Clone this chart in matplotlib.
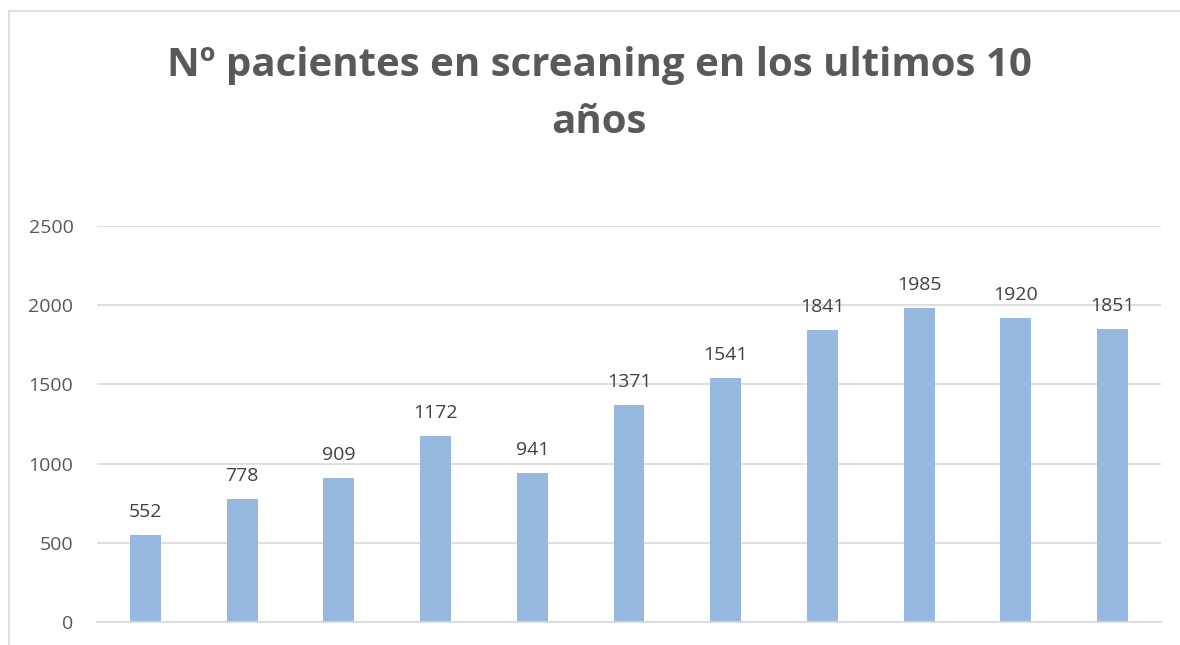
import matplotlib.pyplot as plt
from matplotlib.lines import Line2D

plt.rcParams['font.family'] = ['Open Sans', 'DejaVu Sans']

years = list(range(11))
pacientes = [552, 778, 909, 1172, 941, 1371, 1541, 1841, 1985, 1920, 1851]
yticks = [0, 500, 1000, 1500, 2000, 2500]
title = "Nº pacientes en screaning en los ultimos 10\naños"

W, H = 1180, 645
fig = plt.figure(figsize=(W / 100, H / 100), dpi=100)

# chart border: only top and left edges are visible in the crop
bx, by = 8.5 / W, 1 - 10.5 / H
fig.lines.append(Line2D([bx, 1.0], [by, by], transform=fig.transFigure,
                        color="#D9D9D9", linewidth=1.2))
fig.lines.append(Line2D([bx, bx], [0.0, by], transform=fig.transFigure,
                        color="#D9D9D9", linewidth=1.2))

ax = fig.add_axes([97 / W, (H - 622) / H, (1161 - 97) / W, (622 - 226) / H])
bars = ax.bar(years, pacientes, width=0.32, color="#97B9E0", zorder=2)
ax.set_xlim(-0.5, len(years) - 0.5)
ax.set_ylim(0, 2500)
ax.set_yticks(yticks)
ax.set_yticklabels([str(t) for t in yticks], fontsize=14, color="#595959")
ax.tick_params(axis="y", length=0, pad=17)
ax.set_xticks([])
ax.grid(axis="y", color="#D9D9D9", linewidth=1.2, zorder=0)
for s in ["top", "right", "left"]:
    ax.spines[s].set_visible(False)
ax.spines["bottom"].set_color("#D9D9D9")
ax.spines["bottom"].set_linewidth(1.2)

for x, v in zip(years, pacientes):
    ax.annotate(str(v), (x, v), xytext=(0, 10), textcoords="offset points",
                ha="center", va="bottom", fontsize=14, color="#404040")

fig.text(599 / W, 1 - 94 / H, title, ha="center", va="center",
         fontsize=29, fontweight="bold", color="#595959", linespacing=1.6)

fig.savefig("out.png", dpi=100)
